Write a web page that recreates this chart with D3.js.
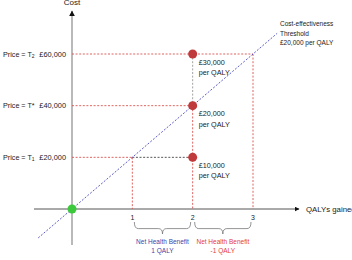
<!DOCTYPE html>
<html>
<head>
<meta charset="utf-8">
<script src="https://cdn.jsdelivr.net/npm/d3@7"></script>
<style>
  html, body { margin: 0; padding: 0; background: #fff; overflow: hidden; }
  svg { display: block; font-family: "Liberation Sans", Arial, sans-serif; }
</style>
</head>
<body>
<svg id="chart" width="352" height="260"></svg>
<script>
// QALY ticks on the x axis
const qalyTicks = [1, 2, 3];
// price levels (cost axis) and their names
const priceLevels = [20000, 40000, 60000];
const priceNames = [['T', '1'], ['T*', ''], ['T', '2']];
const priceLabels = ['£20,000', '£40,000', '£60,000'];
// ICER at 2 QALYs for each price
const icerQaly = 2;
const icerLabels = ['£10,000', '£20,000', '£30,000'];
// threshold line (£ per QALY) and the QALY span it is drawn over
const threshold = 20000;
const thresholdSpan = [-0.56, 3.4];
// net health benefit braces
const nhb = [
    { from: 1, to: 2, lines: ['Net Health Benefit', '1 QALY'], color: '#3f3fa8' },
    { from: 2, to: 3, lines: ['Net Health Benefit', '-1 QALY'], color: '#e33b3b' },
];

const svg = d3.select('#chart');
const x = d3.scaleLinear().domain([0, 3]).range([72, 253]);
const y = d3.scaleLinear().domain([0, 60000]).range([209, 54]);

const RED = '#d9534f';
const DOT = '#c0393b';

// arrowheads
const defs = svg.append('defs');
defs.append('marker').attr('id', 'arr')
    .attr('viewBox', '0 0 10 10').attr('refX', 9).attr('refY', 5)
    .attr('markerWidth', 5).attr('markerHeight', 5).attr('orient', 'auto')
    .append('path').attr('d', 'M0,0 L10,5 L0,10 z').attr('fill', '#111');

// axes
svg.append('line')
    .attr('x1', x(0)).attr('x2', x(0)).attr('y1', 245).attr('y2', 11)
    .attr('stroke', '#8a8a8a').attr('stroke-width', 1.2)
    .attr('marker-end', 'url(#arr)');
svg.append('line')
    .attr('x1', 34).attr('x2', 299).attr('y1', y(0)).attr('y2', y(0))
    .attr('stroke', '#555').attr('stroke-width', 1)
    .attr('marker-end', 'url(#arr)');

svg.append('text').attr('x', x(0)).attr('y', 5)
    .attr('text-anchor', 'middle').attr('font-size', 8).attr('fill', '#222')
    .text('Cost');
svg.append('text').attr('x', 306).attr('y', y(0) + 3)
    .attr('font-size', 7.8).attr('fill', '#222')
    .text('QALYs gained');

// tick labels
svg.selectAll('.qtick').data(qalyTicks).enter().append('text')
    .attr('x', d => x(d)).attr('y', y(0) + 11)
    .attr('text-anchor', 'middle').attr('font-size', 7).attr('fill', '#222')
    .text(d => d);

function dashed(x1, y1, x2, y2, color) {
    svg.append('line')
        .attr('x1', x1).attr('y1', y1).attr('x2', x2).attr('y2', y2)
        .attr('stroke', color).attr('stroke-width', 0.9)
        .attr('stroke-dasharray', '2,1.6');
}

// price lines
// £20k: red to 1 QALY, dark on to 2 QALYs
dashed(x(0), y(priceLevels[0]), x(1), y(priceLevels[0]), RED);
dashed(x(1), y(priceLevels[0]), x(icerQaly), y(priceLevels[0]), '#444');
dashed(x(1), y(priceLevels[0]), x(1), y(0), RED);
// £40k
dashed(x(0), y(priceLevels[1]), x(icerQaly), y(priceLevels[1]), RED);
// £60k
dashed(x(0), y(priceLevels[2]), x(3), y(priceLevels[2]), RED);
dashed(x(3), y(priceLevels[2]), x(3), y(0), RED);
// vertical at 2 QALYs
dashed(x(icerQaly), y(priceLevels[2]), x(icerQaly), y(priceLevels[1]), '#999');
dashed(x(icerQaly), y(priceLevels[1]), x(icerQaly), y(0), RED);

// threshold line
svg.append('line')
    .attr('x1', x(thresholdSpan[0])).attr('y1', y(thresholdSpan[0] * threshold))
    .attr('x2', x(thresholdSpan[1])).attr('y2', y(thresholdSpan[1] * threshold))
    .attr('stroke', '#4b4bc0').attr('stroke-width', 0.9)
    .attr('stroke-dasharray', '2,1.6');

const thr = svg.append('text').attr('x', 280).attr('y', 26)
    .attr('font-size', 6.5).attr('fill', '#222');
['Cost-effectiveness', 'Threshold', '£20,000 per QALY'].forEach((t, i) => {
    thr.append('tspan').attr('x', 280).attr('dy', i ? 9.5 : 0).text(t);
});

// price labels on the left
priceLevels.forEach((p, i) => {
    svg.append('text').attr('x', 66).attr('y', y(p) + 2.6)
        .attr('text-anchor', 'end').attr('font-size', 7.4).attr('fill', '#222')
        .text(priceLabels[i]);
    const t = svg.append('text').attr('x', 3).attr('y', y(p) + 2.6)
        .attr('font-size', 7.2).attr('fill', '#222');
    t.append('tspan').text('Price = ' + priceNames[i][0]);
    if (priceNames[i][1]) {
        t.append('tspan').attr('font-size', 5).attr('dy', 1.5).text(priceNames[i][1]);
    }
});

// dots
svg.selectAll('.pdot').data(priceLevels).enter().append('circle')
    .attr('cx', x(icerQaly)).attr('cy', d => y(d)).attr('r', 4.5)
    .attr('fill', DOT);
svg.append('circle').attr('cx', x(0)).attr('cy', y(0)).attr('r', 4.5)
    .attr('fill', '#3cc93c');

// ICER labels
priceLevels.forEach((p, i) => {
    const t = svg.append('text').attr('x', x(icerQaly) + 6).attr('y', y(p) + 10.5)
        .attr('font-size', 7.2).attr('fill', '#222');
    t.append('tspan').attr('x', x(icerQaly) + 6).text(icerLabels[i]);
    t.append('tspan').attr('x', x(icerQaly) + 6).attr('dy', 10.5).text('per QALY');
});

// braces
function bracePath(x1, x2, top, h) {
    const m = (x1 + x2) / 2, mid = top + h * 0.55;
    return `M${x1},${top} Q${x1},${mid} ${x1 + 4},${mid} L${m - 4},${mid} Q${m},${mid} ${m},${top + h}` +
        ` Q${m},${mid} ${m + 4},${mid} L${x2 - 4},${mid} Q${x2},${mid} ${x2},${top}`;
}
nhb.forEach(b => {
    const x1 = x(b.from) + 2, x2 = x(b.to) - 2;
    svg.append('path').attr('d', bracePath(x1, x2, 222, 12))
        .attr('fill', 'none').attr('stroke', '#777').attr('stroke-width', 0.8);
    const t = svg.append('text').attr('text-anchor', 'middle')
        .attr('font-size', 6.5).attr('fill', b.color);
    b.lines.forEach((l, i) => {
        t.append('tspan').attr('x', (x1 + x2) / 2).attr('y', 244 + i * 9).text(l);
    });
});
</script>
</body>
</html>
